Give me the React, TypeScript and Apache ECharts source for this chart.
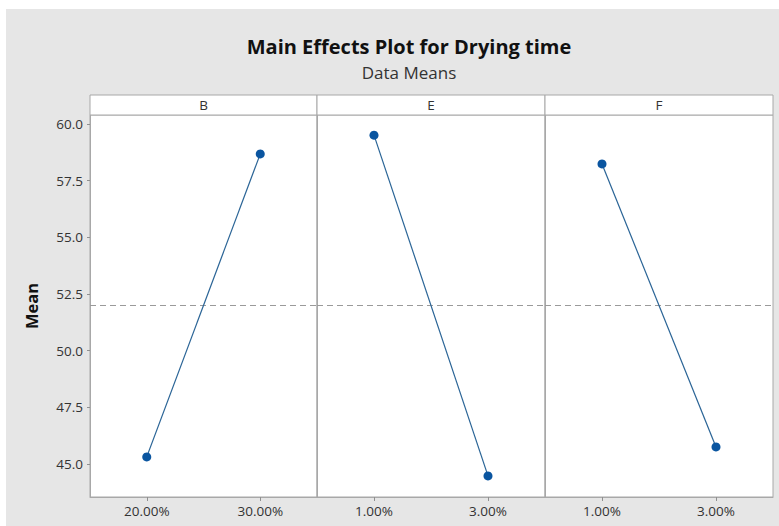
import React, { useEffect, useRef } from "react";
import * as echarts from "echarts";

const factors = ["B", "E", "F"];
const levels = [
  ["20.00%", "30.00%"],
  ["1.00%", "3.00%"],
  ["1.00%", "3.00%"],
];
const means = [
  [45.31, 58.68],
  [59.51, 44.47],
  [58.24, 45.75],
];
const overallMean = 52.0;
const yTicks = [45.0, 47.5, 50.0, 52.5, 55.0, 57.5, 60.0];
const titleText = "Main Effects Plot for Drying time";
const subtitleText = "Data Means";
const yName = "Mean";

const FONT = "'Open Sans', 'Noto Sans', sans-serif";

export default function App() {
  const ref = useRef<HTMLDivElement>(null);
  useEffect(() => {
    if (!ref.current) return;
    const chart = echarts.init(ref.current, null, { renderer: "svg" });
    const panelLefts = [90, 317, 545];
    const panelWidths = [227, 228, 228];
    const top = 115;
    const height = 382;
    const yMin = 43.54;
    const yMax = 60.4;

    const grids = factors.map((_, i) => ({
      left: panelLefts[i],
      width: panelWidths[i],
      top,
      height,
      show: true,
      backgroundColor: "#ffffff",
      borderColor: "#a8a8a8",
      borderWidth: 1,
    }));

    const xAxes = factors.map((_, i) => ({
      type: "category",
      gridIndex: i,
      data: levels[i],
      boundaryGap: true,
      axisLine: { show: true, lineStyle: { color: "#a8a8a8" } },
      axisTick: { show: true, alignWithLabel: true, length: 4, lineStyle: { color: "#909090" } },
      axisLabel: { color: "#333", fontFamily: FONT, fontSize: 13.5, margin: 7 },
      splitLine: { show: false },
    }));

    const yAxes = factors.map((_, i) => ({
      type: "value",
      gridIndex: i,
      min: yMin,
      max: yMax,
      name: i === 0 ? yName : "",
      nameLocation: "middle",
      nameRotate: 90,
      nameGap: 50,
      nameTextStyle: { color: "#111", fontFamily: FONT, fontSize: 16.5, fontWeight: "bold" },
      axisLine: { show: true, lineStyle: { color: "#a8a8a8" } },
      axisTick: { show: i === 0, length: 3, customValues: yTicks, lineStyle: { color: "#909090" } },
      axisLabel: {
        show: i === 0,
        customValues: yTicks,
        formatter: (v: number) => v.toFixed(1),
        color: "#333",
        fontFamily: FONT,
        fontSize: 13.5,
        margin: 7,
      },
      splitLine: { show: false },
    }));

    const series = factors.map((f, i) => ({
      type: "line",
      name: f,
      xAxisIndex: i,
      yAxisIndex: i,
      data: means[i],
      symbol: "circle",
      symbolSize: 9,
      lineStyle: { color: "#2a6496", width: 1.2 },
      itemStyle: { color: "#0a55a0" },
      markLine: {
        silent: true,
        symbol: ["none", "none"],
        label: { show: false },
        lineStyle: { color: "#9a9a9a", type: [6, 4], width: 1 },
        data: [{ yAxis: overallMean }],
      },
      z: 5,
    }));

    const headerGraphics: any[] = [];
    factors.forEach((f, i) => {
      headerGraphics.push({
        type: "rect",
        shape: { x: panelLefts[i], y: 95, width: panelWidths[i], height: 20 },
        style: { fill: "#ffffff", stroke: "#a8a8a8", lineWidth: 1 },
        z: 10,
      });
      headerGraphics.push({
        type: "text",
        x: panelLefts[i] + panelWidths[i] / 2,
        y: 105,
        style: {
          text: f,
          fill: "#333",
          font: `13.5px ${FONT}`,
          align: "center",
          verticalAlign: "middle",
        },
        z: 11,
      });
    });

    chart.setOption({
      animation: false,
      title: {
        text: titleText,
        subtext: subtitleText,
        left: 404,
        textAlign: "center",
        top: 31,
        itemGap: 8,
        textStyle: { color: "#111", fontFamily: FONT, fontSize: 20, fontWeight: "bold" },
        subtextStyle: { color: "#333", fontFamily: FONT, fontSize: 17 },
      },
      grid: grids,
      xAxis: xAxes,
      yAxis: yAxes,
      series,
      graphic: headerGraphics,
    });
    return () => chart.dispose();
  }, []);

  return (
    <div style={{ position: "fixed", left: 0, top: 0, width: 779, height: 526, background: "#ffffff" }}>
      <div style={{ position: "absolute", left: 6, top: 9, right: 0, bottom: 0, background: "#e6e6e6" }} />
      <div ref={ref} style={{ position: "absolute", left: 0, top: 0, width: 779, height: 526 }} />
    </div>
  );
}
